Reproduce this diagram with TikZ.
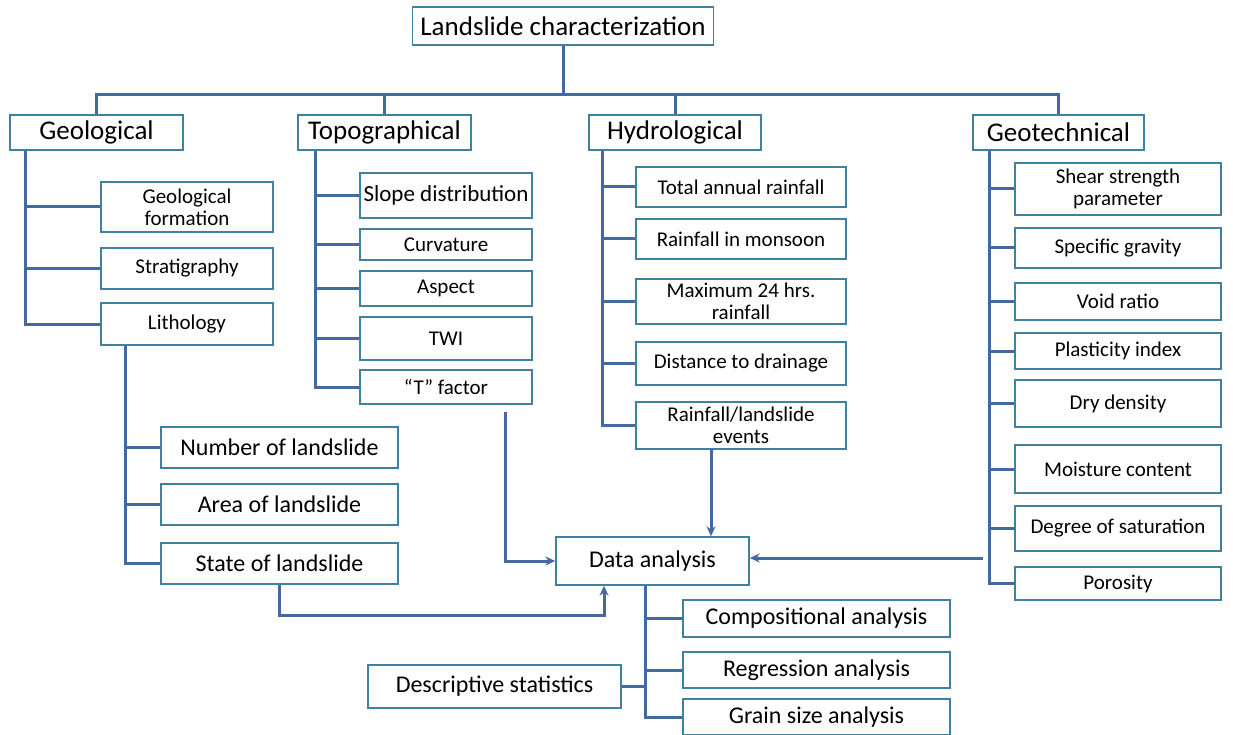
\documentclass[tikz,border=0pt]{standalone}
\usepackage{fontspec}
\setmainfont{Carlito}
\usepackage{tikz}
\usetikzlibrary{arrows.meta,calc,positioning}
\usepackage{xcolor}
\definecolor{linecol}{RGB}{68,104,160}
\definecolor{boxcol}{RGB}{64,128,160}

\tikzset{
  link/.style={draw=linecol,line width=3pt},
  box/.style={draw=boxcol,line width=1.4pt,fill=white,align=center,inner sep=0pt,font=\fontsize{21}{22}\selectfont},
  headbox/.style={box,font=\fontsize{27}{30}\selectfont},
  bigbox/.style={box,font=\fontsize{24}{26}\selectfont},
}

\begin{document}
\begin{tikzpicture}[x=1pt,y=-1pt,>={Stealth[length=10pt,width=9pt]}]
    \useasboundingbox (0,0) rectangle (1233,735);

    \node[box,font=\fontsize{27}{29}\selectfont,minimum width=301pt,minimum height=38pt] (top) at (563,26) {Landslide characterization};

    \node[headbox,minimum width=173pt,minimum height=35pt] (geo) at (96.5,132.5) {Geological};
    \node[headbox,minimum width=173pt,minimum height=35pt] (topo) at (384.5,132.5) {Topographical};
    \node[headbox,minimum width=172pt,minimum height=35pt] (hyd) at (675,132.5) {Hydrological};
    \node[headbox,minimum width=171pt,minimum height=35pt] (gtc) at (1058.5,132.5) {Geotechnical};

    \coordinate (bus) at (563,95);
    \draw[link] (top.south) -- (top.south |- bus);
    \draw[link] (geo.north) -- (geo.north |- bus) -- (gtc.north |- bus) -- (gtc.north);
    \draw[link] (topo.north) -- (topo.north |- bus);
    \draw[link] (hyd.north) -- (hyd.north |- bus);

    % geological
    \node[box,minimum width=172pt,minimum height=50pt] (geoform) at (187,207) {Geological\\formation};
    \node[box,minimum width=172pt,minimum height=41pt] (strat) at (187,268.5) {Stratigraphy};
    \node[box,minimum width=172pt,minimum height=42pt] (lith) at (187,324) {Lithology};
    \coordinate (gt) at ([xshift=16pt]geo.south west);
    \foreach \n in {geoform,strat,lith}
        \draw[link] (gt) |- (\n);

    \node[bigbox,minimum width=237pt,minimum height=41pt] (num) at (279.5,447.5) {Number of landslide};
    \node[bigbox,minimum width=237pt,minimum height=41pt] (area) at (279.5,504.5) {Area of landslide};
    \node[bigbox,minimum width=237pt,minimum height=41pt] (state) at (279.5,563.5) {State of landslide};
    \coordinate (lt) at ([xshift=25pt]lith.south west);
    \foreach \n in {num,area,state}
        \draw[link] (lt) |- (\n);

    % topographical
    \node[box,font=\fontsize{23}{25}\selectfont,minimum width=172pt,minimum height=45pt] (slope) at (446,195.5) {Slope distribution};
    \node[box,minimum width=172pt,minimum height=31pt] (curv) at (446,244.5) {Curvature};
    \node[box,minimum width=172pt,minimum height=35pt] (aspect) at (446,288.5) {Aspect};
    \node[box,minimum width=172pt,minimum height=43pt] (twi) at (446,338.5) {TWI};
    \node[box,minimum width=172pt,minimum height=34pt] (tfac) at (446,387) {“T” factor};
    \coordinate (tt) at ([xshift=18pt]topo.south west);
    \foreach \n in {slope,curv,aspect,twi,tfac}
        \draw[link] (tt) |- (\n);

    % hydrological
    \node[box,minimum width=210pt,minimum height=40pt] (tar) at (741,187) {Total annual rainfall};
    \node[box,minimum width=210pt,minimum height=40pt] (mons) at (741,239) {Rainfall in monsoon};
    \node[box,minimum width=210pt,minimum height=45pt] (max24) at (741,301.5) {Maximum 24 hrs.\\rainfall};
    \node[box,minimum width=210pt,minimum height=43pt] (dist) at (741,363.5) {Distance to drainage};
    \node[box,minimum width=210pt,minimum height=47pt] (events) at (741,425.5) {Rainfall/landslide\\events};
    \coordinate (ht) at ([xshift=14pt]hyd.south west);
    \foreach \n in {tar,mons,max24,dist,events}
        \draw[link] (ht) |- (\n);

    % geotechnical
    \node[box,minimum width=206pt,minimum height=52pt] (shear) at (1118,189) {Shear strength\\parameter};
    \node[box,minimum width=206pt,minimum height=40pt] (spg) at (1118,248) {Specific gravity};
    \node[box,minimum width=206pt,minimum height=37pt] (void) at (1118,301.5) {Void ratio};
    \node[box,minimum width=206pt,minimum height=36pt] (plast) at (1118,351) {Plasticity index};
    \node[box,minimum width=206pt,minimum height=47pt] (dry) at (1118,403.5) {Dry density};
    \node[box,minimum width=206pt,minimum height=48pt] (moist) at (1118,469) {Moisture content};
    \node[box,minimum width=206pt,minimum height=45pt] (sat) at (1118,528.5) {Degree of saturation};
    \node[box,minimum width=206pt,minimum height=33pt] (por) at (1118,583.5) {Porosity};
    \coordinate (ct) at ([xshift=17pt]gtc.south west);
    \foreach \n in {shear,spg,void,plast,dry,moist,sat,por}
        \draw[link] (ct) |- (\n);

    % data analysis
    \node[bigbox,minimum width=193pt,minimum height=48pt] (data) at (652.5,561) {Data analysis};
    \node[bigbox,minimum width=267pt,minimum height=37pt] (comp) at (816.5,618.5) {Compositional analysis};
    \node[bigbox,minimum width=267pt,minimum height=36pt] (reg) at (816.5,670) {Regression analysis};
    \node[bigbox,minimum width=267pt,minimum height=36pt] (grain) at (816.5,717) {Grain size analysis};
    \node[bigbox,minimum width=253pt,minimum height=43pt] (desc) at (494.5,686.5) {Descriptive statistics};
    \coordinate (dt) at ([xshift=90pt]data.south west);
    \foreach \n in {comp,reg,grain}
        \draw[link] (dt) |- (\n);
    \draw[link] (desc.east) -- (desc.east -| dt);

    \coordinate (tf) at (505,412);
    \coordinate (ev) at (711,449);
    \coordinate (gd) at (983,558);
    \coordinate (sb) at (604,615);
    \draw[link,->] (tf) |- (data.west);
    \draw[link,->] (ev) -- (ev |- data.north);
    \draw[link,->] (gd) -- (gd -| data.east);
    \draw[link,->] (state.south) |- (sb) -- (sb |- data.south);
\end{tikzpicture}
\end{document}
